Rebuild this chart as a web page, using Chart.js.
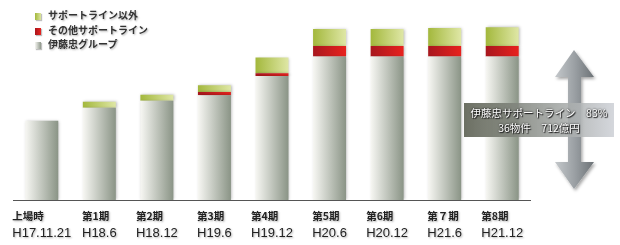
<!DOCTYPE html>
<html>
<head>
<meta charset="utf-8">
<script src="https://cdn.jsdelivr.net/npm/chart.js@4/dist/chart.umd.min.js"></script>
<style>
    html, body { margin: 0; padding: 0; background: #fff; }
    #wrap { position: relative; width: 620px; height: 245px; overflow: hidden; }
    #chart { position: absolute; left: 0; top: 0; }
    .legend { position: absolute; left: 35px; top: 8px; font: bold 10px "Noto Sans CJK JP", sans-serif; color: #333; }
    .legend div { height: 14.5px; line-height: 14px; white-space: nowrap; text-shadow: 1px 1px 2px rgba(0,0,0,0.3); }
    .legend span { display: inline-block; width: 6px; height: 7px; margin-right: 7px; vertical-align: -1px; box-shadow: 1px 1px 1px rgba(0,0,0,0.25); }
    #arrow { position: absolute; left: 548px; top: 45px; }
    #note { position: absolute; left: 464px; top: 103px; width: 150px; height: 34px;
        background: linear-gradient(to right, rgba(92,96,82,0.9), rgba(150,154,150,0.85) 55%, rgba(205,208,214,0.85));
        color: #fff; text-align: center; font: 10.5px "Noto Sans CJK JP", sans-serif; line-height: 15px; padding-top: 2px; box-sizing: border-box;
        text-shadow: 0 0 2px #000, 1px 1px 1px #222; }
</style>
</head>
<body>
<div id="wrap">
    <canvas id="chart" width="620" height="245"></canvas>
    <div class="legend">
        <div><span style="background:linear-gradient(to right,#a3b83c,#dde6a0)"></span>サポートライン以外</div>
        <div><span style="background:linear-gradient(to right,#a8151c,#e82420)"></span>その他サポートライン</div>
        <div><span style="background:linear-gradient(to right,#f6f6f2,#8e978a)"></span>伊藤忠グループ</div>
    </div>
    <svg id="arrow" width="55" height="155" viewBox="548 45 55 155">
        <defs>
            <linearGradient id="ag" x1="0" x2="1" y1="0" y2="0">
                <stop offset="0" stop-color="#c4c8cb"/>
                <stop offset="0.5" stop-color="#9ba0a4"/>
                <stop offset="1" stop-color="#6c7276"/>
            </linearGradient>
            <filter id="sh" x="-30%" y="-10%" width="160%" height="130%">
                <feDropShadow dx="1.5" dy="2" stdDeviation="1.5" flood-color="#000" flood-opacity="0.35"/>
            </filter>
        </defs>
        <polygon filter="url(#sh)" fill="url(#ag)"
            points="574,50 594,77 581,77 581,162 594,162 574,189 555,162 568,162 568,77 555,77"/>
    </svg>
    <div id="note">伊藤忠サポートライン　83%<br>36物件　712億円</div>
</div>
<script>
    var periods = ['上場時', '第1期', '第2期', '第3期', '第4期', '第5期', '第6期', '第７期', '第8期'];
    var dates = ['H17.11.21', 'H18.6', 'H18.12', 'H19.6', 'H19.12', 'H20.6', 'H20.12', 'H21.6', 'H21.12'];
    var itochu = [327, 380, 409, 432, 511, 591, 591, 591, 591];   // 伊藤忠グループ
    var otherSupport = [0, 0, 0, 13, 11, 44, 44, 44, 44];          // その他サポートライン
    var outside = [0, 25, 25, 28, 65, 70, 70, 74, 77];             // サポートライン以外

    // horizontal gradient across each bar
    function barGradient(left, right) {
        return function (ctx) {
            var chart = ctx.chart;
            var xs = chart.scales.x;
            if (!xs || !chart.chartArea) return right;
            var x = xs.getPixelForValue(ctx.dataIndex);
            var half = 16.5;
            var g = chart.ctx.createLinearGradient(x - half, 0, x + half, 0);
            g.addColorStop(0, left);
            g.addColorStop(1, right);
            return g;
        };
    }

    var labelPlugin = {
        id: 'labels',
        beforeDatasetsDraw: function (chart) {
            var c = chart.ctx;
            c.save();
            c.shadowColor = 'rgba(0,0,0,0.3)';
            c.shadowBlur = 3;
            c.shadowOffsetX = 1;
            c.shadowOffsetY = 0;
        },
        afterDatasetsDraw: function (chart) {
            chart.ctx.restore();
        },
        afterDraw: function (chart) {
            var c = chart.ctx;
            var xs = chart.scales.x;
            var y0 = Math.round(chart.scales.y.getPixelForValue(0)) + 0.5;
            c.save();
            c.strokeStyle = '#555';
            c.lineWidth = 1;
            c.beginPath();
            c.moveTo(chart.chartArea.left, y0);
            c.lineTo(chart.chartArea.right, y0);
            c.stroke();
            c.fillStyle = '#222';
            c.shadowColor = 'rgba(0,0,0,0.3)';
            c.shadowBlur = 2;
            c.shadowOffsetX = 1;
            c.shadowOffsetY = 1;
            c.textBaseline = 'middle';
            for (var i = 0; i < periods.length; i++) {
                var x = xs.getPixelForValue(i);
                c.font = '13px "Liberation Sans", Arial, sans-serif';
                var w = c.measureText(dates[i]).width;
                c.textAlign = 'left';
                c.fillText(dates[i], x - w / 2, 233);
                c.font = 'bold 10.5px "Noto Sans CJK JP", sans-serif';
                c.fillText(periods[i], x - w / 2, 216);
            }
            c.restore();
        }
    };

    new Chart(document.getElementById('chart'), {
        type: 'bar',
        data: {
            labels: periods,
            datasets: [{
                label: '伊藤忠グループ',
                data: itochu,
                backgroundColor: barGradient('#f7f7f3', '#8a9486')
            }, {
                label: 'その他サポートライン',
                data: otherSupport,
                backgroundColor: barGradient('#a8171e', '#e8221e')
            }, {
                label: 'サポートライン以外',
                data: outside,
                backgroundColor: barGradient('#a3b83c', '#dfe7a6')
            }]
        },
        options: {
            responsive: false,
            animation: false,
            layout: { padding: { left: 13, right: 89, top: 10, bottom: 45 } },
            datasets: { bar: { barPercentage: 0.573, categoryPercentage: 1 } },
            scales: {
                x: { stacked: true, display: false },
                y: { stacked: true, display: false, min: 0, max: 783 }
            },
            plugins: { legend: { display: false }, tooltip: { enabled: false } }
        },
        plugins: [labelPlugin]
    });
</script>
</body>
</html>
